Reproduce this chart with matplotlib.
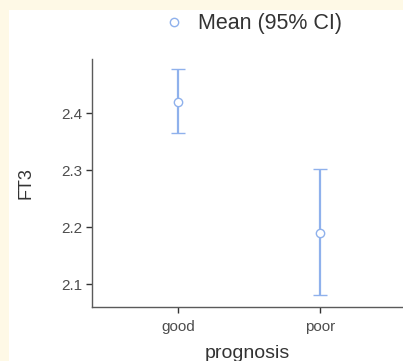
import matplotlib
matplotlib.use("Agg")
import matplotlib.pyplot as plt
from matplotlib.lines import Line2D
from matplotlib.patches import Rectangle

# mean FT3 with 95% CI by prognosis group
groups = ["good", "poor"]
means = [2.419, 2.190]
ci_low = [2.365, 2.081]
ci_high = [2.477, 2.302]
yticks = [2.1, 2.2, 2.3, 2.4]

W, H = 403, 361
blue = "#8fb1ec"
grey = "#4d4d4d"
fonts = ["Liberation Sans", "DejaVu Sans"]

fig = plt.figure(figsize=(W / 100, H / 100), dpi=100, facecolor="#fef9e6")
panel = Rectangle((9 / W, 0), 1 - 9 / W, 1 - 10 / H,
                  transform=fig.transFigure, facecolor="white",
                  edgecolor="none", zorder=-10)
fig.add_artist(panel)

ax = fig.add_axes([92 / W, 54 / H, (W - 92) / W, (307 - 59) / H])
ax.set_facecolor("none")
ax.set_zorder(2)

x = list(range(len(groups)))
err = [[m - lo for m, lo in zip(means, ci_low)],
       [hi - m for m, hi in zip(means, ci_high)]]
ax.errorbar(x, means, yerr=err, fmt="o", color=blue, ecolor=blue,
            elinewidth=1.6, capsize=4.7, capthick=1.6,
            markersize=6, markerfacecolor="white", markeredgecolor=blue,
            markeredgewidth=1.0, zorder=3)

ax.set_xlim(-0.606, 1.585)
ax.set_ylim(2.0605, 2.495)
ax.set_xticks(x)
ax.set_xticklabels(groups)
ax.set_yticks(yticks)
ax.set_yticklabels([f"{v:.1f}" for v in yticks])

for side in ["top", "right"]:
    ax.spines[side].set_visible(False)
for side in ["left", "bottom"]:
    ax.spines[side].set_color("#5a5a5a")
    ax.spines[side].set_linewidth(1.0)
ax.tick_params(axis="both", direction="out", length=4, width=1.0,
               color="#333333", labelcolor=grey, labelsize=11, pad=3)
ax.tick_params(axis="x", pad=5)

ax.set_xlabel("prognosis", fontsize=14, color="#333333", labelpad=8,
              family=fonts)
ax.set_ylabel("FT3", fontsize=13, color="#333333", labelpad=19,
              family=fonts)
for t in ax.get_xticklabels() + ax.get_yticklabels():
    t.set_family(fonts)

handle = Line2D([], [], linestyle="none", marker="o", markersize=6,
                markerfacecolor="white", markeredgecolor=blue,
                markeredgewidth=1.0)
leg = fig.legend([handle], ["Mean (95% CI)"], loc="center left",
                 bbox_to_anchor=(164 / W, 1 - 24 / H), frameon=False,
                 fontsize=15.5, handlelength=0.9, handletextpad=0.7,
                 borderpad=0, borderaxespad=0, labelcolor="#333333")
for t in leg.get_texts():
    t.set_family(fonts)

fig.savefig("out.png", dpi=100, facecolor=fig.get_facecolor())
